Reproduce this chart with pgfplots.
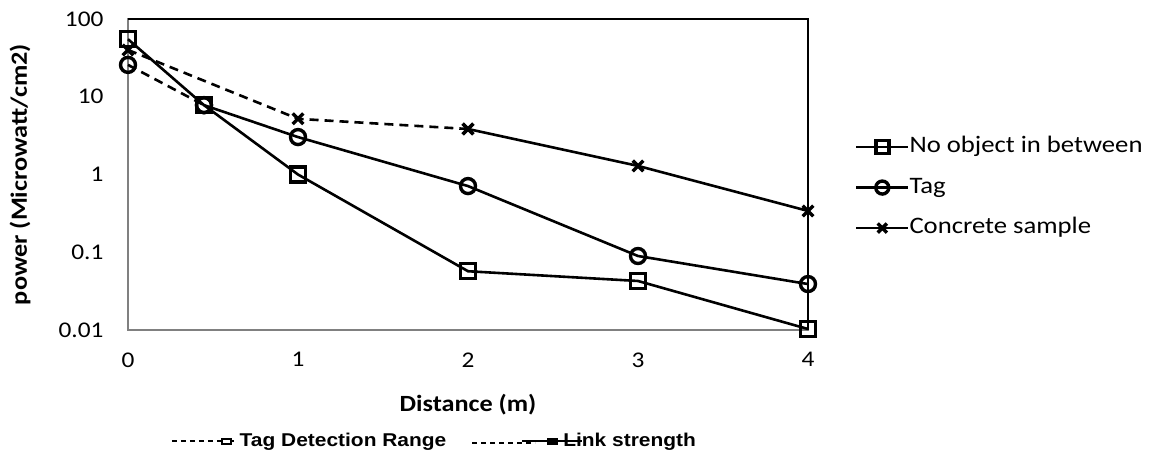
\documentclass[border=0pt]{standalone}
\usepackage{fontspec}
\setmainfont{Carlito}[FakeStretch=1.13]
\newfontfamily\arialfont{Liberation Sans}[FakeStretch=1.13]
\usepackage{pgfplots}
\pgfplotsset{compat=1.18}

\pgfplotsset{
  serie/.style={black, line width=2.6bp, mark size=7.5bp,
    mark options={solid, line width=3.4bp, fill=white}},
  dash part/.style={serie, dash pattern=on 9bp off 6bp, forget plot},
  legline/.style={legend image code/.code={%
    \draw[mark repeat=2, mark phase=2, ##1] plot coordinates {(0bp,0bp)(26bp,0bp)(52bp,0bp)};}},
}

\begin{document}
\begin{tikzpicture}
\begin{axis}[
  at={(0,0)}, anchor=south west,
  scale only axis, width=680bp, height=311bp,
  xmin=0, xmax=4, ymode=log, ymin=0.01, ymax=100,
  xtick={0,1,2,3,4}, xticklabels={0,1,2,3,4},
  ytick={0.01,0.1,1,10,100}, yticklabels={0.01,0.1,1,10,100},
  major tick length=0pt, minor tick length=0pt,
  /pgf/number format/assume math mode=true,
  axis line style={draw=gray, line width=2bp},
  tick label style={font=\fontsize{22.5}{26}\selectfont},
  xticklabel style={yshift=-19bp},
  yticklabel style={xshift=-21bp},
  xlabel={Distance (m)}, ylabel={power (Microwatt/cm2)},
  label style={font=\fontsize{23.3}{28}\selectfont\bfseries},
  xlabel style={at={(axis description cs:0.5,-0.2412)}, anchor=center},
  ylabel style={at={(axis description cs:-0.1588,0.5)}, anchor=center},
  clip=false,
  legline,
  legend cell align=left,
  legend style={at={(axis description cs:1.069,0.458)}, anchor=west, draw=none,
    fill=none, inner sep=0pt, row sep=19.5bp,
    nodes={inner sep=0pt, text height=16bp, text depth=5bp},
    font=\fontsize{23.7}{28}\selectfont},
  legend image post style={line width=2.4bp, mark size=6.5bp},
]
% No object in between
\addplot[serie, mark=square] coordinates {
  (0,55) (0.447,7.8) (1,1) (2,0.057) (3,0.0427) (4,0.0103)};
\addlegendentry{No object in between}
% Tag
\addplot[dash part, mark=o] coordinates {(0,25.7) (0.447,7.8)};
\addplot[serie, mark=o] coordinates {
  (0.447,7.8) (1,3.03) (2,0.71) (3,0.0895) (4,0.039)};
\addlegendentry{Tag}
% Concrete sample
\addplot[dash part, mark=x] coordinates {(0,40) (1,5.2) (2,3.85)};
\addplot[serie, mark=x] coordinates {(2,3.85) (3,1.29) (4,0.34)};
\addlegendentry{Concrete sample}
\draw[black, line width=2bp] (rel axis cs:0,1) -- (rel axis cs:1,1) -- (rel axis cs:1,0);
\end{axis}

\begin{axis}[
  at={(0,0)}, anchor=south west,
  scale only axis, width=680bp, height=311bp,
  hide axis, xmin=0, xmax=1, ymin=0, ymax=1,
  legend columns=2,
  legend style={at={(axis description cs:0.0632,-0.357)}, anchor=west, draw=none,
    fill=none, inner sep=0pt, column sep=5bp,
    /tikz/every even column/.append style={column sep=25bp},
    nodes={inner sep=0pt, text height=14bp, text depth=4bp},
    font=\arialfont\bfseries\fontsize{18.6}{22}\selectfont},
]
\addlegendimage{legend image code/.code={%
  \draw[line width=1.5bp, dash pattern=on 5bp off 4bp] (0bp,0bp) -- (47bp,0bp);
  \draw[line width=1.5bp] (47bp,0bp) -- (62bp,0bp);
  \draw[line width=2bp, fill=white] (50bp,-2.5bp) rectangle (59bp,2.5bp);}}
\addlegendentry{Tag Detection Range}
\addlegendimage{legend image code/.code={%
  \draw[line width=1.5bp, dash pattern=on 5bp off 4bp] (0bp,-2bp) -- (63bp,-2bp);
  \draw[line width=1.5bp] (50bp,0bp) -- (75bp,0bp);
  \draw[fill=black] (75bp,-3bp) rectangle (85bp,3bp);
  \path (86bp,0bp);
  \draw[overlay, line width=1.5bp] (85bp,0bp) -- (110bp,0bp);}}
\addlegendentry{Link strength}
\end{axis}

\pgfresetboundingbox
\path[use as bounding box] (-128bp,-132bp) rectangle (1030bp,330bp);
\end{tikzpicture}
\end{document}
